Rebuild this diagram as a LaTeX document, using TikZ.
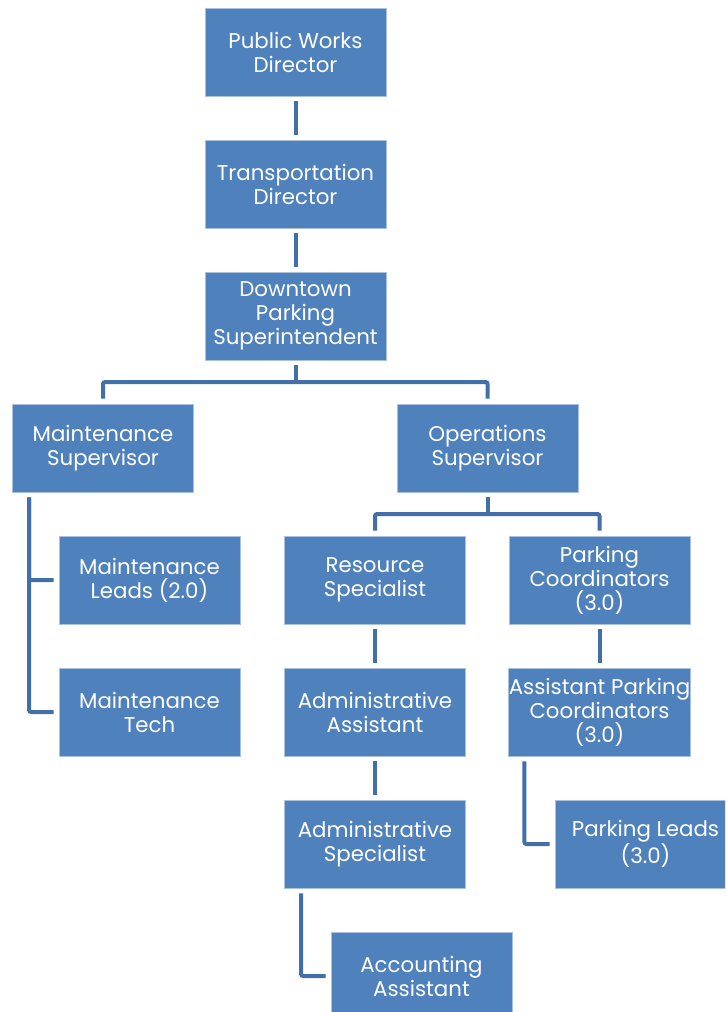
\documentclass[tikz,border=0pt]{standalone}
\usepackage{fontspec}
\setmainfont{Poppins}
\usetikzlibrary{calc}
\definecolor{boxfill}{HTML}{4F81BD}
\definecolor{boxedge}{HTML}{A9C0DE}
\definecolor{linkcol}{HTML}{426FA8}
\begin{document}
\begin{tikzpicture}[x=0.75pt,y=-0.75pt,
  rolebox/.style={rectangle, fill=boxfill, draw=boxedge, line width=0.6pt,
    minimum width=135.75pt, minimum height=66pt, inner sep=0pt,
    text=white, align=center, font=\fontsize{16}{18}\selectfont},
  link/.style={draw=linkcol, line width=3pt, rounded corners=1.5pt}]
\useasboundingbox (0,0) rectangle (725,1012);
\clip (0,0) rectangle (725,1012);
\fill[white] (0,0) rectangle (725,1012);

% boxes
\node[rolebox] (pwd) at (295.5,52)  {Public Works\\Director};
\node[rolebox] (td)  at (295.5,184) {Transportation\\Director};
\node[rolebox] (dps) at (295.5,316) {Downtown\\Parking\\Superintendent};
\node[rolebox] (ms)  at (103,448)   {Maintenance\\Supervisor};
\node[rolebox] (os)  at (487.5,448) {Operations\\Supervisor};
\node[rolebox] (ml)  at (149.5,580) {Maintenance\\Leads (2.0)};
\node[rolebox] (mt)  at (149.5,712) {Maintenance\\Tech};
\node[rolebox] (rs)  at (375,580)   {Resource\\Specialist};
\node[rolebox] (pc)  at (599.5,580) {Parking\\Coordinators\\(3.0)};
\node[rolebox] (aa)  at (375,712)   {Administrative\\Assistant};
\node[rolebox] (apc) at (599.5,712) {Assistant Parking\\Coordinators\\(3.0)};
\node[rolebox] (as)  at (375,844)   {Administrative\\Specialist};
\node[rolebox] (pl)  at (645.5,844) {Parking Leads\\(3.0)};
\node[rolebox] (acc) at (421.5,976) {Accounting\\Assistant};

% straight links
\draw[link] ($(pwd.south)+(0,5)$) -- ($(td.north)+(0,-5)$);
\draw[link] ($(td.south)+(0,5)$) -- ($(dps.north)+(0,-5)$);
\draw[link] ($(rs.south)+(0,5)$) -- ($(aa.north)+(0,-5)$);
\draw[link] ($(aa.south)+(0,5)$) -- ($(as.north)+(0,-5)$);
\draw[link] ($(pc.south)+(0,5)$) -- ($(apc.north)+(0,-5)$);

% superintendent to supervisors
\coordinate (busA) at ($(dps.south)!0.5!(dps.south|-ms.north)$);
\draw[link] ($(dps.south)+(0,5)$) -- (busA);
\draw[link] ($(ms.north)+(0,-5)$) |- (busA) -| ($(os.north)+(0,-5)$);

% operations supervisor to its reports
\coordinate (busB) at ($(os.south)!0.5!(os.south|-rs.north)$);
\draw[link] ($(os.south)+(0,5)$) -- (busB);
\draw[link] ($(rs.north)+(0,-5)$) |- (busB) -| ($(pc.north)+(0,-5)$);

% maintenance side rail
\draw[link] ($(ms.south west)+(17,5)$) |- ($(mt.west)+(-5,0)$);
\draw[link] ($(ms.south west)+(17,5)$) |- ($(ml.west)+(-5,0)$);

% side rails below
\draw[link] ($(apc.south west)+(16,5)$) |- ($(pl.west)+(-5,0)$);
\draw[link] ($(as.south west)+(17,5)$) |- ($(acc.west)+(-5,0)$);
\end{tikzpicture}
\end{document}
